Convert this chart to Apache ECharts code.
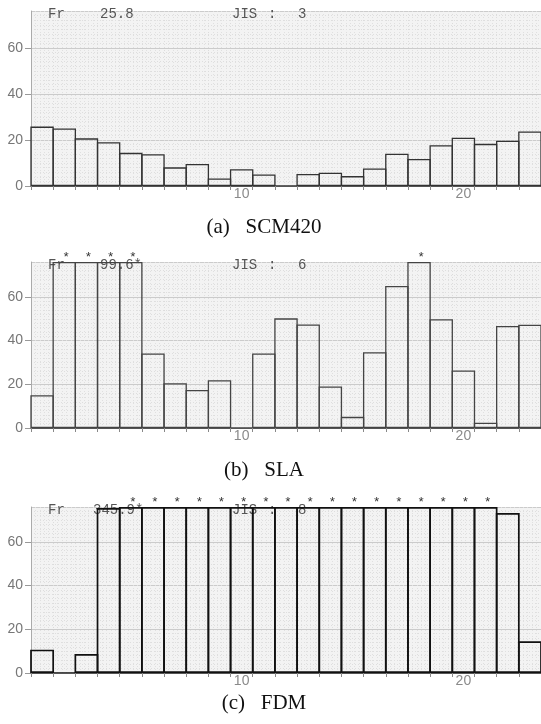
<!DOCTYPE html>
<html>
<head>
<meta charset="utf-8">
<script src="https://cdn.jsdelivr.net/npm/echarts@6/dist/echarts.min.js"></script>
<style>
  html, body { margin: 0; padding: 0; background: #fff; }
  #main { width: 541px; height: 724px; }
</style>
</head>
<body>
<div id="main"></div>
<script>
// bar numbers 1..23
var categories = ['1', '2', '3', '4', '5', '6', '7', '8', '9', '10', '11', '12',
  '13', '14', '15', '16', '17', '18', '19', '20', '21', '22', '23'];

// values; bars above the scale are drawn at the top (76) and marked with *
var scmValues = [25.8, 25.0, 20.7, 19.0, 14.4, 13.8, 8.1, 9.6, 3.3, 7.3, 5.0, 0,
  5.2, 5.8, 4.3, 7.6, 14.0, 11.7, 17.7, 21.0, 18.3, 19.7, 23.7];
var scmOver = [];

var slaValues = [15.0, 76, 76, 76, 76, 34.1, 20.5, 17.4, 21.9, 0, 34.1, 50.2,
  47.4, 19.0, 5.1, 34.7, 65.0, 76, 49.8, 26.3, 2.4, 46.7, 47.3];
var slaOver = [2, 3, 4, 5, 18];

var fdmValues = [10.7, 0, 8.7, 75.5, 76, 76, 76, 76, 76, 76, 76, 76,
  76, 76, 76, 76, 76, 76, 76, 76, 76, 73.2, 14.5];
var fdmOver = [5, 6, 7, 8, 9, 10, 11, 12, 13, 14, 15, 16, 17, 18, 19, 20, 21];

var yTicks = [0, 20, 40, 60];
var xTickLabels = ['10', '20'];

var headers = [
  { fr: '25.8', jis: '3' },
  { fr: '99.6*', jis: '6' },
  { fr: '345.9*', jis: '8' }
];
var captions = ['(a)   SCM420', '(b)   SLA', '(c)   FDM'];

var yMax = 76;

// panel boxes (pixels)
var panels = [
  { top: 11, height: 175, cap: 227 },
  { top: 262, height: 166, cap: 470 },
  { top: 507, height: 166, cap: 703 }
];
var plotWidth = 510;

var myChart = echarts.init(document.getElementById('main'));

var grids = [], xAxes = [], yAxes = [], series = [], graphics = [];
var allValues = [scmValues, slaValues, fdmValues];
var allOver = [scmOver, slaOver, fdmOver];
var borderColors = ['#333', '#444', '#111'];
var borderWidths = [1.3, 1.3, 1.7];

panels.forEach(function (p, i) {
  grids.push({
    left: 31, right: 0, top: p.top, height: p.height,
    show: true, backgroundColor: '#f3f3f3', borderWidth: 0
  });
  // bars
  xAxes.push({
    gridIndex: i,
    type: 'category',
    data: categories,
    axisLine: { lineStyle: { color: '#555', width: 1.2 } },
    axisTick: { show: true, interval: 0, length: 4, lineStyle: { color: '#888' } },
    axisLabel: {
      interval: function (idx, val) { return xTickLabels.indexOf(val) >= 0; },
      margin: 1, color: '#8a8a8a', fontSize: 14, fontFamily: 'Liberation Sans'
    },
    splitLine: { show: false },
    z: 3
  });
  // dotted vertical texture only
  xAxes.push({
    gridIndex: i,
    type: 'value',
    min: 0, max: 23, interval: 1,
    axisLine: { show: false }, axisTick: { show: false }, axisLabel: { show: false },
    splitLine: { show: true, lineStyle: { color: '#dcdcdc', type: [1, 2], width: 1 } },
    minorTick: { show: false, splitNumber: 5 },
    minorSplitLine: { show: true, lineStyle: { color: '#e0e0e0', type: [1, 2], width: 1 } }
  });
  yAxes.push({
    gridIndex: i,
    type: 'value',
    min: 0, max: yMax, interval: 20,
    axisLine: { show: true, lineStyle: { color: '#aaa', width: 1 } },
    axisTick: { show: true, length: 6, lineStyle: { color: '#999' } },
    axisLabel: {
      showMaxLabel: false, margin: 8, color: '#777', fontSize: 14, fontFamily: 'Liberation Sans',
      formatter: function (v) { return yTicks.indexOf(v) >= 0 ? String(v) : ''; }
    },
    splitLine: { show: true, lineStyle: { color: '#cbcbcb', width: 1 } },
    minorTick: { show: false, splitNumber: 10 },
    minorSplitLine: { show: true, lineStyle: { color: '#dedede', type: [1, 2], width: 1 } }
  });

  // echarts draws the border inside each bar, so widen bars by one border width
  // to make neighbouring bars share a single edge line
  var bandWidth = plotWidth / categories.length;
  var gap = -(borderWidths[i] / bandWidth * 100) + '%';

  var over = allOver[i];
  series.push({
    type: 'bar',
    xAxisIndex: i * 2,
    yAxisIndex: i,
    data: allValues[i],
    barCategoryGap: gap,
    itemStyle: { color: 'rgba(0,0,0,0)', borderColor: borderColors[i], borderWidth: borderWidths[i] },
    label: {
      show: true, position: 'top', distance: 0, offset: [2, 2],
      fontFamily: 'Liberation Mono', fontSize: 13, color: '#333',
      formatter: function (prm) { return over.indexOf(prm.dataIndex + 1) >= 0 ? '*' : ''; }
    },
    silent: true,
    animation: false
  });

  // header text of each panel
  var ty = p.top - 4;
  var hfont = '14px "Liberation Mono"';
  graphics.push({ type: 'text', left: 48, top: ty, z: 1, style: { text: 'Fr', font: hfont, fill: '#555' } });
  graphics.push({ type: 'text', left: i === 2 ? 93 : 100, top: ty, z: 1, style: { text: headers[i].fr, font: hfont, fill: '#555' } });
  graphics.push({ type: 'text', left: 232, top: ty, z: 1, style: { text: 'JIS', font: hfont, fill: '#555' } });
  graphics.push({ type: 'text', left: 268, top: ty, z: 1, style: { text: ':', font: hfont, fill: '#555' } });
  graphics.push({ type: 'text', left: 298, top: ty, z: 1, style: { text: headers[i].jis, font: hfont, fill: '#555' } });

  // caption
  graphics.push({
    type: 'text', x: 264, y: p.cap,
    style: { text: captions[i], font: '21px "Liberation Serif"', fill: '#111', textAlign: 'center', textVerticalAlign: 'middle' }
  });
});

var option = {
  backgroundColor: '#fff',
  animation: false,
  grid: grids,
  xAxis: xAxes,
  yAxis: yAxes,
  series: series,
  graphic: graphics
};
myChart.setOption(option);
</script>
</body>
</html>
